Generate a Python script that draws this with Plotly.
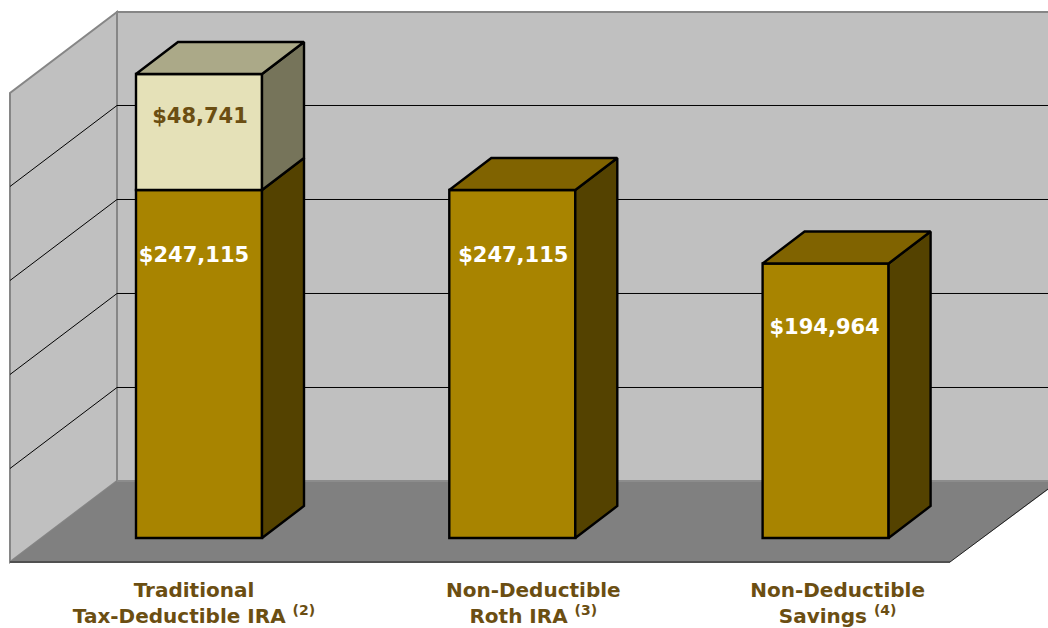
import plotly.graph_objects as go

# ---- data ----
categories = ["Traditional<br>Tax-Deductible IRA <sup>(2)</sup>",
              "Non-Deductible<br>Roth IRA <sup>(3)</sup>",
              "Non-Deductible<br>Savings <sup>(4)</sup>"]
lower_values = [247115, 247115, 194964]
upper_heights = [82400, None, None]     # drawn height of the pale segment
lower_labels = ["$247,115", "$247,115", "$194,964"]
upper_labels = ["$48,741", None, None]
grid_values = [66400, 133150, 199900, 266650]
wall_top_value = 333000

# ---- layout constants ----
W, H = 1048, 628
PLOT_BOTTOM = 566
ZERO_PX, X0_PX, STEP_PX = 538, 199, 313.3
K = 348 / 247115                # px per unit
BAR_W = 126 / STEP_PX
DX, DY = 42 / STEP_PX, 32 / K   # bar depth
BROWN = "#6B4E12"
EDGE = 2.4


def X(px):
    return (px - X0_PX) / STEP_PX


def Y(px):
    return (ZERO_PX - px) / K


wall_base = Y(481)
wall_left, wall_back = X(10), X(117)
floor_base = Y(562)
xs = list(range(len(categories)))
fig = go.Figure()
shapes = []


def backdrop(points, fill=None, line=None, width=1):
    d = "M" + " L".join(f"{x},{y}" for x, y in points)
    if fill:
        d += " Z"
    shapes.append(dict(type="path", path=d, xref="x", yref="y", layer="below",
                       fillcolor=fill if fill else "rgba(0,0,0,0)",
                       line=dict(color=line if line else "rgba(0,0,0,0)", width=width)))


def poly(x, y, fill, line="black", width=EDGE):
    fig.add_trace(go.Scatter(x=x, y=y, mode="lines", fill="toself", fillcolor=fill,
                             line=dict(color=line, width=width), hoverinfo="skip",
                             showlegend=False))


# walls and floor
top = wall_base + wall_top_value
side_top = floor_base + wall_top_value
backdrop([(wall_back, wall_base), (X(1060), wall_base), (X(1060), top), (wall_back, top)],
         "#C0C0C0", "#868686", 2)
backdrop([(wall_left, floor_base), (wall_back, wall_base), (wall_back, top), (wall_left, side_top)],
         "#C0C0C0", "#868686", 2)
backdrop([(wall_left, floor_base), (wall_back, wall_base), (X(1060), wall_base),
          (X(1060), Y(481)), (X(950), floor_base)], "#808080", None)
backdrop([(wall_back, wall_base), (X(1060), wall_base)], None, "#8C8C8C", 2)
backdrop([(wall_left, floor_base), (X(950), floor_base)], None, "#505050", 2)
backdrop([(X(950), floor_base), (X(1048), Y(489))], None, "#202020", 1)

# gridlines
for g in grid_values:
    backdrop([(wall_left, floor_base + g), (wall_back, wall_base + g), (X(1060), wall_base + g)],
             None, "black", 1)

# stacked front faces
fig.add_trace(go.Bar(x=xs, y=lower_values, width=BAR_W, marker=dict(color="#A88400",
              line=dict(color="black", width=EDGE)), hoverinfo="skip", showlegend=False))
fig.add_trace(go.Bar(x=xs, y=upper_heights, base=lower_values, width=BAR_W, marker=dict(color="#E5E1B8",
              line=dict(color="black", width=EDGE)), hoverinfo="skip", showlegend=False))


# depth faces derived from the values
def side_and_top(i, bottom, top_v, side, cap):
    r = xs[i] + BAR_W / 2
    l = xs[i] - BAR_W / 2
    poly([r, r + DX, r + DX, r, r], [bottom, bottom + DY, top_v + DY, top_v, bottom], side)
    if cap:
        poly([l, l + DX, r + DX, r, l], [top_v, top_v + DY, top_v + DY, top_v, top_v], cap)


for i in xs:
    low = lower_values[i]
    up = upper_heights[i]
    side_and_top(i, 0, low, "#544200", None if up else "#806300")
    if up:
        side_and_top(i, low, low + up, "#76745A", "#ABA988")

# data labels
label_shift_px = [-5, 1, -1]
label_drop_px = [67, 67, 65]
low_x = [x + s / STEP_PX for x, s in zip(xs, label_shift_px)]
low_y = [v - d / K for v, d in zip(lower_values, label_drop_px)]
fig.add_trace(go.Scatter(x=low_x, y=low_y, mode="text", text=lower_labels, showlegend=False,
                         textfont=dict(family="DejaVu Sans", size=21, color="white", weight="bold"),
                         hoverinfo="skip"))
up_x = [xs[0] + 1 / STEP_PX]
up_y = [lower_values[0] + upper_heights[0] - 44 / K]
fig.add_trace(go.Scatter(x=up_x, y=up_y, mode="text", text=upper_labels[:1], showlegend=False,
                         textfont=dict(family="DejaVu Sans", size=21, color=BROWN, weight="bold"),
                         hoverinfo="skip"))

tick_shift_px = [-5, 21, 12]
fig.update_layout(
    width=W, height=H, margin=dict(l=0, r=0, t=0, b=H - PLOT_BOTTOM, pad=0, autoexpand=False),
    paper_bgcolor="white", plot_bgcolor="white", barmode="overlay",
    showlegend=False, shapes=shapes,
    xaxis=dict(range=[X(0), X(W)], showgrid=False, zeroline=False, showline=False, automargin=False,
               tickmode="array", tickvals=[x + s / STEP_PX for x, s in zip(xs, tick_shift_px)],
               ticktext=categories, ticks="", ticklabelstandoff=10,
               tickfont=dict(family="DejaVu Sans", size=20, color=BROWN, weight="bold")),
    yaxis=dict(range=[Y(PLOT_BOTTOM), Y(0)], visible=False),
)
fig.write_html("out.html", config=dict(displayModeBar=False),
               post_script="document.body.style.margin='0';")
